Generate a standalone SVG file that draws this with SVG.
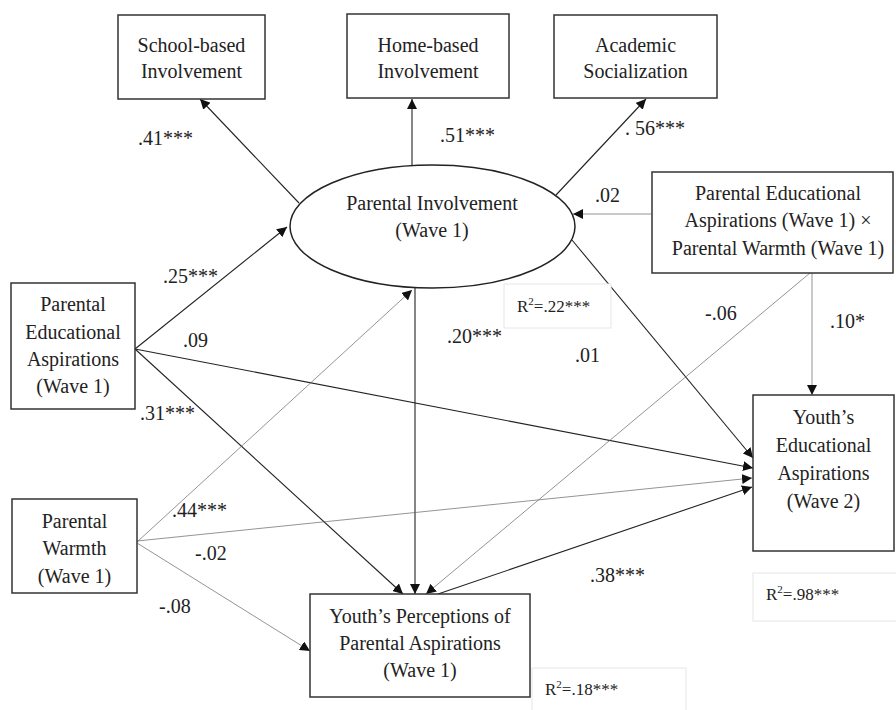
<svg xmlns="http://www.w3.org/2000/svg" width="896" height="710" viewBox="0 0 896 710">
<defs>
<marker id="ah" viewBox="0 0 10 10" refX="10" refY="5" markerWidth="10" markerHeight="10" markerUnits="userSpaceOnUse" orient="auto">
<path d="M0,0 L10,5 L0,10 z" fill="#111"/>
</marker>
<marker id="ahb" viewBox="0 0 10 10" refX="10" refY="5" markerWidth="12" markerHeight="12" markerUnits="userSpaceOnUse" orient="auto">
<path d="M0,0 L10,5 L0,10 z" fill="#111"/>
</marker>
</defs>
<style>
text{font-family:"Liberation Serif","Times New Roman",serif;font-size:20px;fill:#222}
.c{text-anchor:middle}
.box{fill:#fff;stroke:#333;stroke-width:1.5}
.rbox{fill:#fff;stroke:#e6e6e6;stroke-width:1}
.r{font-size:17px}
.dk{stroke:#222;stroke-width:1.1;fill:none;marker-end:url(#ah)}
.lt{stroke:#666;stroke-width:0.7;fill:none;marker-end:url(#ah)}
</style>
<rect width="896" height="710" fill="#fff"/>
<g id="connectors">
<line class="dk" x1="299" y1="203" x2="200" y2="99"/>
<line class="dk" x1="412" y1="165" x2="412" y2="99"/>
<line class="dk" x1="556" y1="195" x2="646" y2="99"/>
<line class="lt" x1="651" y1="214" x2="573" y2="214"/>
<line class="dk" x1="135" y1="349" x2="287" y2="227"/>
<line class="dk" x1="135" y1="349" x2="753" y2="468"/>
<line class="dk" x1="135" y1="349" x2="403" y2="594"/>
<line class="dk" x1="415" y1="288" x2="415" y2="594"/>
<line class="dk" x1="572" y1="240" x2="753" y2="458"/>
<line class="lt" x1="812" y1="273" x2="812" y2="395"/>
<line class="lt" x1="810" y1="273" x2="426" y2="594"/>
<line class="lt" x1="137" y1="542" x2="412" y2="290"/>
<line class="lt" x1="137" y1="541" x2="752" y2="478"/>
<line class="lt" x1="137" y1="543" x2="310" y2="651"/>
<line class="dk" x1="438" y1="594" x2="752" y2="487"/>
</g>
<g id="school">
<rect class="box" x="118" y="15" width="147" height="84"/>
<text class="c" x="191.5" y="52">School-based</text>
<text class="c" x="191.5" y="78">Involvement</text>
</g>
<g id="home">
<rect class="box" x="347" y="14" width="162" height="84"/>
<text class="c" x="428" y="52">Home-based</text>
<text class="c" x="428" y="78">Involvement</text>
</g>
<g id="academic">
<rect class="box" x="554" y="15" width="163" height="83"/>
<text class="c" x="635.5" y="52">Academic</text>
<text class="c" x="635.5" y="78">Socialization</text>
</g>
<g id="parental-involvement">
<ellipse cx="432.5" cy="226.5" rx="142.5" ry="61.5" fill="#fff" stroke="#222" stroke-width="1.5"/>
<text class="c" x="432" y="210">Parental Involvement</text>
<text class="c" x="432" y="237">(Wave 1)</text>
</g>
<g id="interaction">
<rect class="box" x="652" y="172" width="241" height="101"/>
<text class="c" x="778" y="200">Parental Educational</text>
<text class="c" x="778" y="227">Aspirations (Wave 1) ×</text>
<text class="c" x="778" y="255">Parental Warmth (Wave 1)</text>
</g>
<g id="pea">
<rect class="box" x="11" y="283" width="124" height="126"/>
<text class="c" x="73" y="311">Parental</text>
<text class="c" x="73" y="339">Educational</text>
<text class="c" x="73" y="366">Aspirations</text>
<text class="c" x="73" y="393">(Wave 1)</text>
</g>
<g id="warmth">
<rect class="box" x="12" y="499" width="125" height="94"/>
<text class="c" x="74.5" y="528">Parental</text>
<text class="c" x="74.5" y="555">Warmth</text>
<text class="c" x="74.5" y="583">(Wave 1)</text>
</g>
<g id="yppa">
<rect class="box" x="310" y="594" width="220" height="103"/>
<text class="c" x="420" y="623">Youth’s Perceptions of</text>
<text class="c" x="420" y="650">Parental Aspirations</text>
<text class="c" x="420" y="677">(Wave 1)</text>
</g>
<g id="yea">
<rect class="box" x="753" y="395" width="141" height="156"/>
<text class="c" x="823.5" y="424">Youth’s</text>
<text class="c" x="823.5" y="452">Educational</text>
<text class="c" x="823.5" y="480">Aspirations</text>
<text class="c" x="823.5" y="508">(Wave 2)</text>
</g>
<g id="r2-boxes">
<rect class="rbox" x="504" y="284" width="107" height="44"/>
<text class="r" x="517" y="312">R<tspan font-size="11" dy="-7">2</tspan><tspan dy="7">=.22***</tspan></text>
<rect class="rbox" x="753" y="573" width="150" height="48"/>
<text class="r" x="766" y="600">R<tspan font-size="11" dy="-7">2</tspan><tspan dy="7">=.98***</tspan></text>
<rect class="rbox" x="532" y="668" width="154" height="50"/>
<text class="r" x="545" y="695">R<tspan font-size="11" dy="-7">2</tspan><tspan dy="7">=.18***</tspan></text>
</g>
<g id="labels">
<text x="138" y="145">.41***</text>
<text x="440" y="142">.51***</text>
<text x="625" y="135">. 56***</text>
<text x="595" y="202">.02</text>
<text x="163" y="283">.25***</text>
<text x="183" y="347">.09</text>
<text x="140" y="420">.31***</text>
<text x="447" y="343">.20***</text>
<text x="575" y="362">.01</text>
<text x="705" y="320">-.06</text>
<text x="830" y="328">.10*</text>
<text x="172" y="517">.44***</text>
<text x="195" y="560">-.02</text>
<text x="159" y="613">-.08</text>
<text x="590" y="582">.38***</text>
</g>
</svg>
